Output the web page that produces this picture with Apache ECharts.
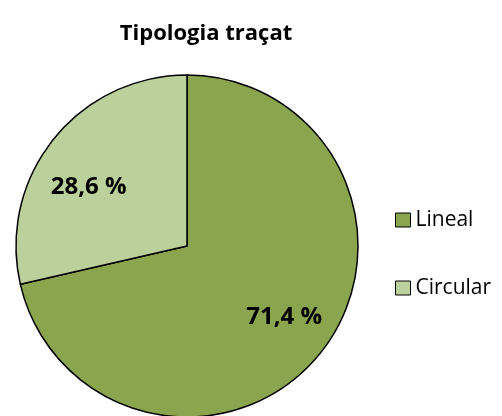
<!DOCTYPE html>
<html><head><meta charset="utf-8">
<script src="https://cdn.jsdelivr.net/npm/echarts@6/dist/echarts.min.js"></script>
<style>html,body{margin:0;padding:0;background:#fff}#c{width:502px;height:416px}</style>
</head><body><div id="c"></div>
<script>
const categories = ['Lineal', 'Circular'];
const values = [71.4, 28.6];
const colors = ['#8ba54f', '#bbd09b'];
const labelTexts = ['71,4 %', '28,6 %'];
const labelShift = [[28, 16], [-29, -4]];

const chart = echarts.init(document.getElementById('c'));
chart.setOption({
  animation: false,
  title: {
    text: 'Tipologia traçat', left: 201, top: 18, textAlign: 'center',
    textStyle: { fontFamily: 'Open Sans', fontWeight: 'bold', fontSize: 22, color: '#000' }
  },
  legend: {
    orient: 'vertical', left: 390, top: 204, itemGap: 46,
    itemWidth: 15, itemHeight: 14, icon: 'rect',
    itemStyle: { borderColor: '#000', borderWidth: 1 },
    textStyle: { fontFamily: 'Open Sans', fontSize: 21, lineHeight: 22, color: '#000' },
    data: categories
  },
  series: [{
    type: 'pie', center: [187, 246], radius: 171,
    startAngle: 90, clockwise: true,
    itemStyle: { borderColor: '#000', borderWidth: 1.5 },
    label: {
      show: true, position: 'inside',
      fontFamily: 'Open Sans', fontWeight: 'bold', fontSize: 24, color: '#000',
      formatter: p => labelTexts[p.dataIndex]
    },
    labelLayout: p => ({ dx: labelShift[p.dataIndex][0], dy: labelShift[p.dataIndex][1] }),
    labelLine: { show: false },
    emphasis: { disabled: true },
    data: categories.map((c, i) => ({ name: c, value: values[i], itemStyle: { color: colors[i] } }))
  }]
});
</script></body></html>
